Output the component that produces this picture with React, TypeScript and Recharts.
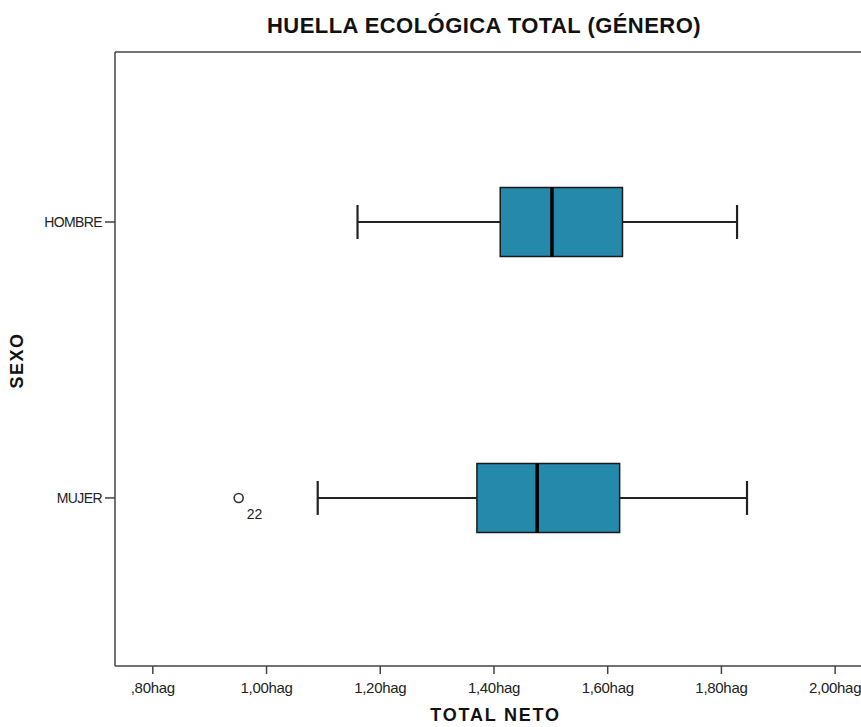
import React from "react";
import {
  ComposedChart,
  XAxis,
  YAxis,
  Scatter,
  ReferenceArea,
  ReferenceLine,
} from "recharts";

// ---- data ----
const categories = ["HOMBRE", "MUJER"];
const minValues = [1.16, 1.09];
const q1Values = [1.411, 1.37];
const medianValues = [1.502, 1.476];
const q3Values = [1.626, 1.621];
const maxValues = [1.8275, 1.845];
const outlierCategories = ["MUJER"];
const outlierValues = [0.951];
const outlierIds = ["22"];
const xTicks = [0.8, 1.0, 1.2, 1.4, 1.6, 1.8, 2.0];

const X_DOMAIN: [number, number] = [0.7335, 2.1];
const Y_DOMAIN: [number, number] = [-0.609, 1.616];

const FONT = '"Liberation Sans", Arial, sans-serif';
const BOX_FILL = "#2489ab";
const AXIS = "#444";

const catPos = (name: string) => categories.length - 1 - categories.indexOf(name);
const yTicks = categories.map((c) => catPos(c));

const fmtX = (v: number) => {
  const s = v.toFixed(2).replace(".", ",");
  return (s.startsWith("0") ? s.slice(1) : s) + "hag";
};
const fmtY = (v: number) => {
  const idx = categories.length - 1 - Math.round(v);
  return categories[idx] ?? "";
};

const outlierData = outlierValues.map((v, i) => ({
  x: v,
  y: catPos(outlierCategories[i]),
  id: outlierIds[i],
}));

const BOX_HALF = 0.125;
const CAP_HALF = 0.0616;

const OutlierShape = (props: any) => {
  const { cx, cy, payload } = props;
  return (
    <g>
      <circle cx={cx} cy={cy} r={4.5} fill="#fff" stroke="#333" strokeWidth={1.6} />
      <text x={cx + 8} y={cy + 21} fontSize={14} fontFamily={FONT} fill="#222">
        {payload.id}
      </text>
    </g>
  );
};

export default function App() {
  const boxes = categories.map((c, i) => {
    const y = catPos(c);
    return (
      <React.Fragment key={c}>
        <ReferenceLine
          segment={[{ x: minValues[i], y }, { x: q1Values[i], y }]}
          stroke="#222"
          strokeWidth={2}
        />
        <ReferenceLine
          segment={[{ x: q3Values[i], y }, { x: maxValues[i], y }]}
          stroke="#222"
          strokeWidth={2}
        />
        <ReferenceLine
          segment={[
            { x: minValues[i], y: y - CAP_HALF },
            { x: minValues[i], y: y + CAP_HALF },
          ]}
          stroke="#222"
          strokeWidth={2.2}
        />
        <ReferenceLine
          segment={[
            { x: maxValues[i], y: y - CAP_HALF },
            { x: maxValues[i], y: y + CAP_HALF },
          ]}
          stroke="#222"
          strokeWidth={2.2}
        />
        <ReferenceArea
          x1={q1Values[i]}
          x2={q3Values[i]}
          y1={y - BOX_HALF}
          y2={y + BOX_HALF}
          fill={BOX_FILL}
          fillOpacity={1}
          stroke="#1a1a1a"
          strokeWidth={1.5}
        />
        <ReferenceLine
          segment={[
            { x: medianValues[i], y: y - BOX_HALF },
            { x: medianValues[i], y: y + BOX_HALF },
          ]}
          stroke="#000"
          strokeWidth={3.5}
        />
      </React.Fragment>
    );
  });

  return (
    <div
      style={{
        position: "absolute",
        left: 0,
        top: 0,
        width: 861,
        height: 727,
        overflow: "hidden",
        background: "#fff",
      }}
    >
      <ComposedChart
        width={900}
        height={727}
        margin={{ top: 52, right: 8, bottom: 0, left: 0 }}
      >
        <XAxis
          dataKey="x"
          type="number"
          domain={X_DOMAIN}
          allowDataOverflow
          ticks={xTicks}
          interval={0}
          tickFormatter={fmtX}
          height={61}
          tickSize={8}
          tickMargin={8}
          tick={{ fill: "#222", fontSize: 15, fontFamily: FONT, letterSpacing: -0.3 }}
          tickLine={{ stroke: AXIS, strokeWidth: 1.5 }}
          axisLine={{ stroke: AXIS, strokeWidth: 1.5 }}
        />
        <YAxis
          dataKey="y"
          type="number"
          domain={Y_DOMAIN}
          allowDataOverflow
          ticks={yTicks}
          interval={0}
          tickFormatter={fmtY}
          width={115}
          tickSize={10}
          tickMargin={3}
          tick={{ fill: "#222", fontSize: 14, fontFamily: FONT, letterSpacing: -0.6 }}
          tickLine={{ stroke: AXIS, strokeWidth: 1.5 }}
          axisLine={{ stroke: AXIS, strokeWidth: 1.5 }}
        />
        <ReferenceLine y={Y_DOMAIN[1]} stroke={AXIS} strokeWidth={1.5} ifOverflow="visible" />
        {boxes}
        <Scatter
          data={outlierData}
          shape={<OutlierShape />}
          isAnimationActive={false}
        />
      </ComposedChart>
      <svg
        width={861}
        height={727}
        style={{ position: "absolute", left: 0, top: 0, pointerEvents: "none" }}
      >
        <text
          x={484}
          y={33.3}
          textAnchor="middle"
          fontFamily={FONT}
          fontSize={22}
          fontWeight="bold"
          letterSpacing={0.45}
          fill="#111"
        >
          HUELLA ECOLÓGICA TOTAL (GÉNERO)
        </text>
        <text
          x={495.5}
          y={721}
          textAnchor="middle"
          fontFamily={FONT}
          fontSize={18}
          fontWeight="bold"
          letterSpacing={1.8}
          fill="#111"
        >
          TOTAL NETO
        </text>
        <text
          transform="translate(23.3,360.5) rotate(-90)"
          textAnchor="middle"
          fontFamily={FONT}
          fontSize={18}
          fontWeight="bold"
          letterSpacing={1.5}
          fill="#111"
        >
          SEXO
        </text>
      </svg>
    </div>
  );
}
